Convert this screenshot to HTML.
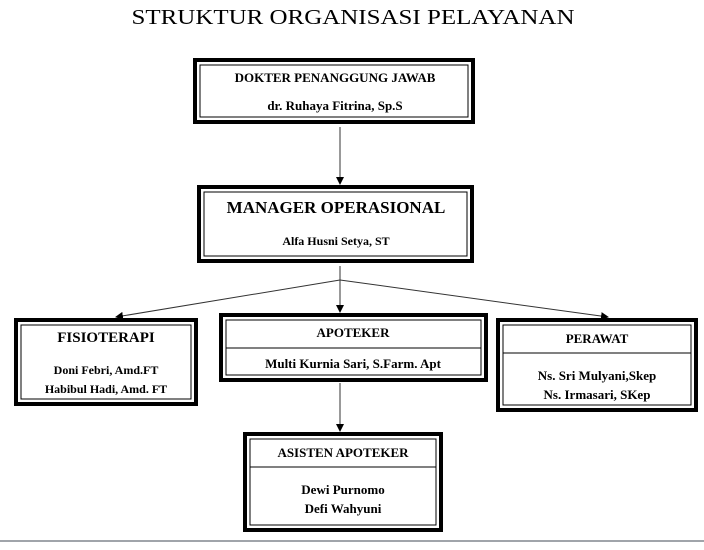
<!DOCTYPE html>
<html><head><style>
html,body{margin:0;padding:0;background:#fff;}
body{width:704px;height:545px;overflow:hidden;position:relative;font-family:"Liberation Serif",serif;}
</style></head><body>
<svg width="704" height="545" xmlns="http://www.w3.org/2000/svg" font-family="Liberation Serif, serif" font-weight="bold" text-anchor="middle">
<defs><marker id="a" markerWidth="8" markerHeight="8" refX="7" refY="4" orient="auto" markerUnits="userSpaceOnUse"><path d="M0,0 L8,4 L0,8 z" fill="#000"/></marker></defs>
<text x="353" y="24" font-size="21" font-weight="normal" textLength="443" lengthAdjust="spacingAndGlyphs">STRUKTUR ORGANISASI PELAYANAN</text>
<g fill="none" stroke="#000">
<rect x="195" y="60" width="278" height="62" stroke-width="4"/>
<rect x="200" y="65" width="268" height="52" stroke-width="1"/>
<rect x="199" y="187" width="273" height="74" stroke-width="4"/>
<rect x="204" y="192" width="263" height="64" stroke-width="1"/>
<rect x="16" y="320" width="180" height="84" stroke-width="4"/>
<rect x="21" y="325" width="170" height="74" stroke-width="1"/>
<rect x="221" y="315" width="265" height="65" stroke-width="4"/>
<rect x="226" y="320" width="255" height="55" stroke-width="1"/>
<line x1="226" y1="348" x2="481" y2="348" stroke-width="1"/>
<rect x="498" y="320" width="198" height="90" stroke-width="4"/>
<rect x="503" y="325" width="188" height="80" stroke-width="1"/>
<line x1="503" y1="353" x2="691" y2="353" stroke-width="1"/>
<rect x="245" y="434" width="196" height="96" stroke-width="4"/>
<rect x="250" y="439" width="186" height="86" stroke-width="1"/>
<line x1="250" y1="467" x2="436" y2="467" stroke-width="1"/>
<g stroke="#333" stroke-width="1">
<line x1="340" y1="127" x2="340" y2="184" marker-end="url(#a)"/>
<line x1="340" y1="266" x2="340" y2="312" marker-end="url(#a)"/>
<line x1="340" y1="280" x2="116" y2="317" marker-end="url(#a)"/>
<line x1="340" y1="280" x2="608" y2="317" marker-end="url(#a)"/>
<line x1="340" y1="383" x2="340" y2="431" marker-end="url(#a)"/>
</g>
</g>
<text x="335" y="82" font-size="13">DOKTER  PENANGGUNG  JAWAB</text>
<text x="335" y="110" font-size="13">dr. Ruhaya Fitrina, Sp.S</text>
<text x="336" y="213" font-size="17">MANAGER OPERASIONAL</text>
<text x="336" y="245" font-size="12">Alfa Husni Setya, ST</text>
<text x="106" y="342" font-size="15">FISIOTERAPI</text>
<text x="106" y="374" font-size="12">Doni Febri, Amd.FT</text>
<text x="106" y="393" font-size="12">Habibul Hadi, Amd. FT</text>
<text x="353" y="337" font-size="13">APOTEKER</text>
<text x="353" y="368" font-size="13">Multi Kurnia Sari, S.Farm. Apt</text>
<text x="597" y="343" font-size="13">PERAWAT</text>
<text x="597" y="380" font-size="13">Ns. Sri Mulyani,Skep</text>
<text x="597" y="399" font-size="13">Ns. Irmasari,  SKep</text>
<text x="343" y="457" font-size="13">ASISTEN  APOTEKER</text>
<text x="343" y="494" font-size="13">Dewi Purnomo</text>
<text x="343" y="513" font-size="13">Defi  Wahyuni</text>
<rect x="0" y="540" width="704" height="2" fill="#a0a4aa"/>
</svg>
</body></html>
